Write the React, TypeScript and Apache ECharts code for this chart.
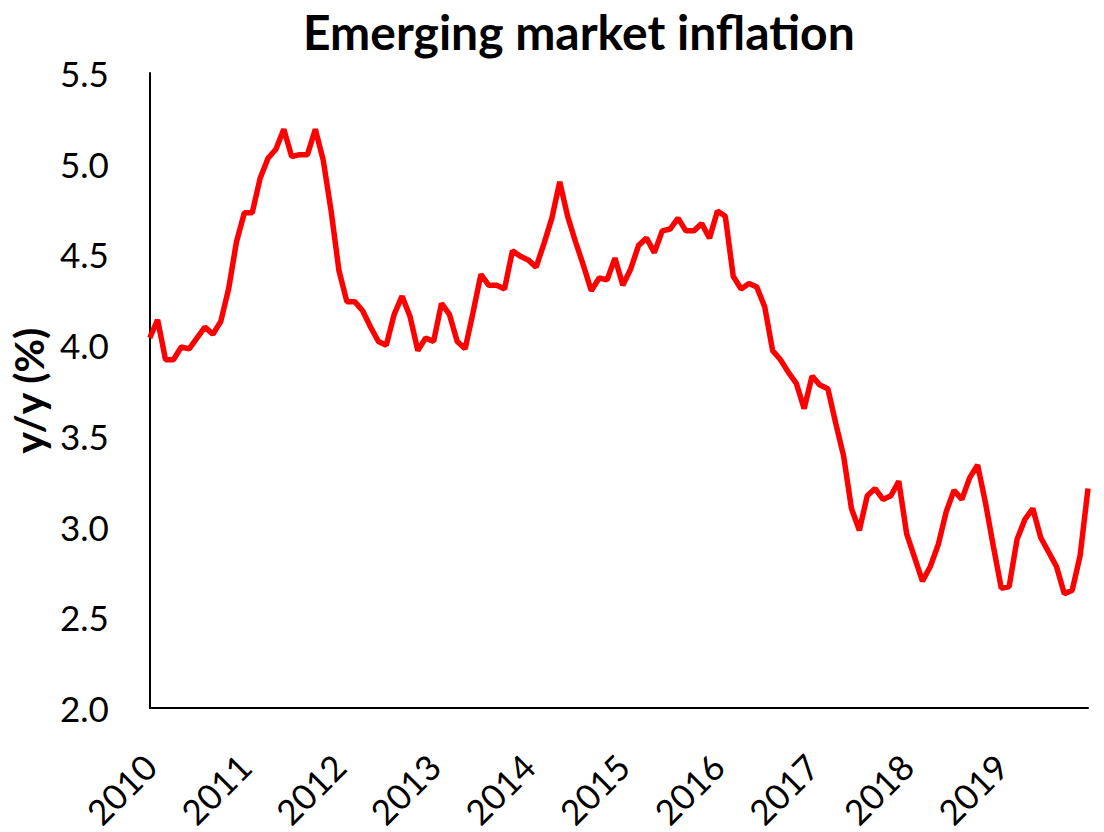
import React, { useEffect, useRef } from "react";
import * as echarts from "echarts";

const TITLE = "Emerging market inflation";
const Y_NAME = "y/y (%)";
const START_YEAR = 2010;
const YEARS = 10;

// Monthly EM inflation, Jan 2010 - Dec 2019 (y/y %)
const inflation2010 = [4.04, 4.14, 3.92, 3.92, 3.99, 3.98, 4.04, 4.10, 4.06, 4.13, 4.31, 4.57];
const inflation2011 = [4.73, 4.73, 4.92, 5.03, 5.08, 5.19, 5.04, 5.05, 5.05, 5.19, 5.02, 4.74];
const inflation2012 = [4.41, 4.24, 4.24, 4.19, 4.10, 4.02, 4.00, 4.17, 4.27, 4.16, 3.97, 4.04];
const inflation2013 = [4.02, 4.23, 4.17, 4.02, 3.98, 4.18, 4.39, 4.33, 4.33, 4.31, 4.52, 4.49];
const inflation2014 = [4.47, 4.43, 4.56, 4.70, 4.90, 4.71, 4.57, 4.44, 4.30, 4.37, 4.36, 4.48];
const inflation2015 = [4.33, 4.42, 4.55, 4.59, 4.51, 4.63, 4.64, 4.70, 4.63, 4.63, 4.67, 4.59];
const inflation2016 = [4.74, 4.71, 4.38, 4.31, 4.34, 4.32, 4.21, 3.97, 3.92, 3.85, 3.79, 3.65];
const inflation2017 = [3.83, 3.78, 3.76, 3.57, 3.39, 3.10, 2.98, 3.17, 3.21, 3.15, 3.17, 3.25];
const inflation2018 = [2.96, 2.83, 2.70, 2.78, 2.90, 3.08, 3.20, 3.15, 3.27, 3.34, 3.13, 2.89];
const inflation2019 = [2.66, 2.67, 2.93, 3.04, 3.10, 2.94, 2.86, 2.78, 2.63, 2.65, 2.84, 3.21];

const values = [
  ...inflation2010, ...inflation2011, ...inflation2012, ...inflation2013, ...inflation2014,
  ...inflation2015, ...inflation2016, ...inflation2017, ...inflation2018, ...inflation2019,
];

const months: string[] = [];
for (let y = 0; y < YEARS; y++) {
  for (let m = 1; m <= 12; m++) {
    months.push(`${START_YEAR + y}-${String(m).padStart(2, "0")}`);
  }
}

const Y_MIN = 2.0;
const Y_MAX = 5.5;
const Y_STEP = 0.5;

const FONT = "Lato";

export default function App() {
  const ref = useRef<HTMLDivElement>(null);

  useEffect(() => {
    if (!ref.current) return;
    const chart = echarts.init(ref.current, undefined, { renderer: "svg" });
    chart.setOption({
      animation: false,
      backgroundColor: "#ffffff",
      title: {
        text: TITLE,
        left: 298,
        top: 2,
        textStyle: {
          fontFamily: FONT,
          fontWeight: "bold",
          fontSize: 48,
          color: "#000000",
        },
      },
      grid: {
        left: 140,
        right: 16,
        top: 73,
        bottom: 119,
        containLabel: false,
      },
      xAxis: {
        type: "category",
        data: months,
        boundaryGap: false,
        axisLine: { show: true, lineStyle: { color: "#000000", width: 2 } },
        axisTick: { show: false },
        splitLine: { show: false },
        axisLabel: {
          interval: (index: number) => index % 12 === 0,
          formatter: (v: string) => v.slice(0, 4),
          rotate: 45,
          margin: 52,
          fontFamily: FONT,
          fontSize: 35,
          color: "#000000",
        },
      },
      yAxis: {
        type: "value",
        min: Y_MIN,
        max: Y_MAX,
        interval: Y_STEP,
        name: Y_NAME,
        nameLocation: "middle",
        nameRotate: 90,
        nameGap: 80,
        nameTextStyle: {
          fontFamily: FONT,
          fontWeight: "bold",
          fontSize: 41,
          color: "#000000",
        },
        axisLine: { show: true, lineStyle: { color: "#000000", width: 2 } },
        axisTick: { show: false },
        splitLine: { show: false },
        axisLabel: {
          formatter: (v: number) => v.toFixed(1),
          margin: 41,
          fontFamily: FONT,
          fontSize: 35,
          color: "#000000",
        },
      },
      series: [
        {
          type: "line",
          data: values,
          symbol: "none",
          lineStyle: { color: "#ff0000", width: 5.5 },
          z: 3,
        },
      ],
    });
    return () => chart.dispose();
  }, []);

  return (
    <div
      ref={ref}
      style={{ position: "absolute", left: 0, top: 0, width: 1104, height: 832 }}
    />
  );
}
